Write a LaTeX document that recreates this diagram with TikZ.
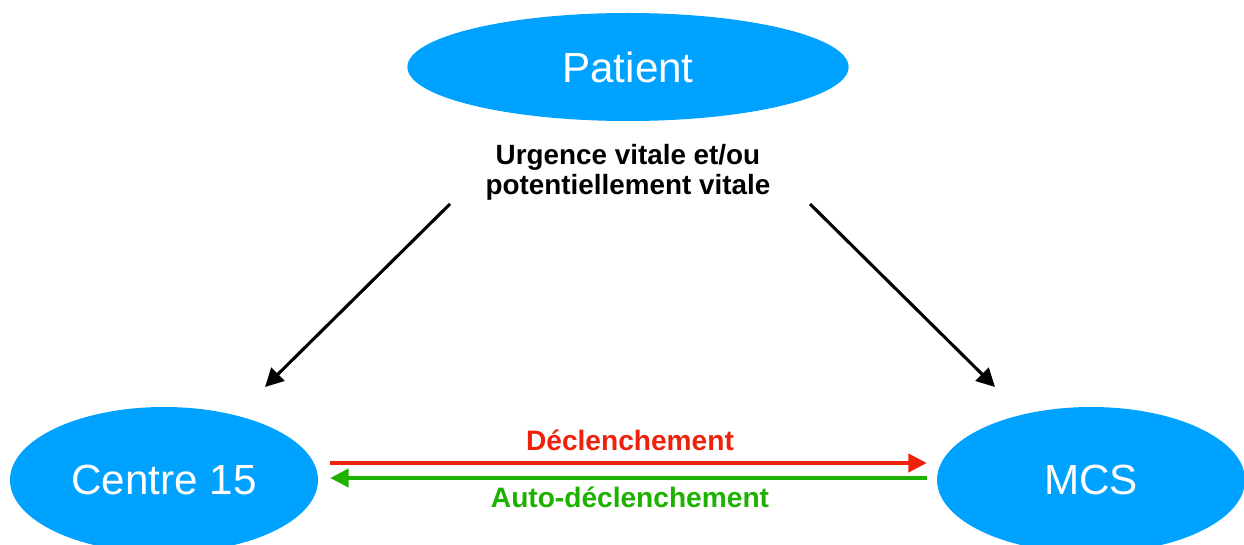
\documentclass[tikz,border=0pt]{standalone}
\usepackage{fontspec}
\setmainfont{Liberation Sans}
\usepackage{tikz}
\usetikzlibrary{shapes.geometric,arrows.meta}

\definecolor{bubble}{HTML}{00A2FF}
\definecolor{trigred}{HTML}{EE220C}
\definecolor{trigreen}{HTML}{1DB100}

\begin{document}
\begin{tikzpicture}[
    bubble/.style={ellipse, fill=bubble, text=white, inner sep=0pt,
        font=\fontsize{30}{36}\selectfont},
    flow/.style={line width=2.2pt, -{Triangle[length=13pt,width=13pt]}},
    ]
    \useasboundingbox (0,0) rectangle (31.1,-13.6);

    % The three actors
    \node[bubble, minimum width=11.03cm, minimum height=2.7cm] (patient) at (15.7,-1.675) {Patient};
    \node[bubble, minimum width=7.7cm, minimum height=3.65cm] (centre) at (4.1,-12.0) {Centre 15};
    \node[bubble, minimum width=7.7cm, minimum height=3.65cm] (mcs) at (27.275,-12.0) {MCS};

    % Reason for the call
    \node[align=center, font=\bfseries\fontsize{19.8}{21.5}\selectfont] (urgence) at (15.7,-4.3)
        {Urgence vitale et/ou\\potentiellement vitale};

    % Calls from the patient
    \coordinate (from left) at (11.25,-5.1);
    \coordinate (to centre) at (6.625,-9.675);
    \coordinate (from right) at (20.25,-5.1);
    \coordinate (to mcs) at (24.875,-9.675);
    \draw[flow] (from left) -- (to centre);
    \draw[flow] (from right) -- (to mcs);

    % Triggering between Centre 15 and MCS
    \draw[flow, trigred] ([xshift=0.3cm, yshift=0.425cm]centre.east) -- ([xshift=-0.25cm, yshift=0.425cm]mcs.west);
    \draw[flow, trigreen] ([xshift=-0.25cm, yshift=0.05cm]mcs.west) -- ([xshift=0.3cm, yshift=0.05cm]centre.east);

    \node[trigred, font=\bfseries\fontsize{20}{24}\selectfont] (declenche) at (15.75,-11.0) {Déclenchement};
    \node[trigreen, font=\bfseries\fontsize{20}{24}\selectfont] (auto) at (15.75,-12.425) {Auto-déclenchement};
\end{tikzpicture}
\end{document}
